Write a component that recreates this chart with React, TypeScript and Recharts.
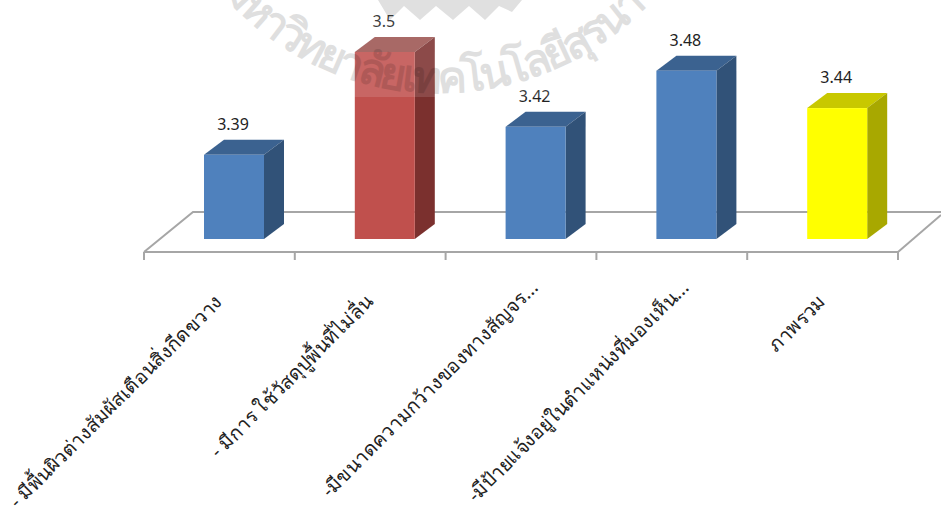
import React from 'react'
import { Bar, BarChart, Customized, LabelList, XAxis, YAxis, usePlotArea } from 'recharts'

const categories = [
    '- มีพื้นผิวต่างสัมผัสเตือนสิ่งกีดขวาง',
    '- มีการ ใช้วัสดุปูพื้นที่ไม่ลื่น',
    '-มีขนาดความกว้างของทางสัญจร...',
    '-มีป้ายแจ้งอยู่ในตำแหน่งที่มองเห็น...',
    'ภาพรวม',
]
const values = [3.39, 3.5, 3.42, 3.48, 3.44]
const frontColors = ['#4f81bd', '#c0504d', '#4f81bd', '#4f81bd', '#ffff00']
const topColors = ['#3b6290', '#9b5350', '#3b6290', '#3b6290', '#c8c800']
const sideColors = ['#315278', '#7b302e', '#315278', '#315278', '#a8a800']
const watermarkText = 'มหาวิทยาลัยเทคโนโลยีสุรนารี'

const data = categories.map((name, i) => ({ name, value: values[i] }))

const BAR_SHIFT = 15
const DEPTH_X = 20
const DEPTH_Y = 15

function Bar3D(props: any) {
    const { x, y, width, height, index } = props
    const left = x + BAR_SHIFT
    const right = left + width
    const bottom = y + height
    return (
        <g>
            <polygon points={`${left},${y} ${left + DEPTH_X},${y - DEPTH_Y} ${right + DEPTH_X},${y - DEPTH_Y} ${right},${y}`} fill={topColors[index]} />
            <polygon points={`${right},${y} ${right + DEPTH_X},${y - DEPTH_Y} ${right + DEPTH_X},${bottom - DEPTH_Y} ${right},${bottom}`} fill={sideColors[index]} />
            <rect x={left} y={y} width={width} height={height} fill={frontColors[index]} />
        </g>
    )
}

// floor of the 3d plot, sits behind the bars
function Floor() {
    const plot = usePlotArea()
    if (!plot) return null
    const left = plot.x
    const w = plot.width
    const base = plot.y + plot.height
    const front = base + 13
    const step = w / categories.length
    return (
        <g stroke="#a6a6a6" strokeWidth={2} fill="none">
            <polyline points={`${left},${front} ${left + 49},${base - 27} 941,${base - 27}`} />
            <line x1={left} y1={front} x2={left + w} y2={front} />
            <line x1={left + w} y1={front} x2={941} y2={base - 24} />
            {[0, 1, 2, 3, 4, 5].map((i) => (
                <line key={i} x1={left + i * step} y1={front} x2={left + i * step} y2={front + 8} />
            ))}
        </g>
    )
}

function AxisTick(props: any) {
    const { x, y, payload } = props
    // the cut-off labels run further up than the others
    const dx = payload.value.endsWith('...') ? 20 : 0
    return (
        <text
            x={x + 4}
            y={y + 56}
            dx={dx}
            transform={`rotate(-45 ${x + 4} ${y + 56})`}
            textAnchor="end"
            fontFamily="'Noto Sans', 'DejaVu Sans', sans-serif"
            fontSize={19.5}
            fill="#222"
        >
            {payload.value}
        </text>
    )
}

function ValueLabel(props: any) {
    const { x, y, width, value } = props
    return (
        <text
            x={x + BAR_SHIFT + width / 2 - 1}
            y={y - 25}
            textAnchor="middle"
            fontFamily="'Noto Sans', sans-serif"
            fontSize={16}
            fill="#222"
        >
            {value}
        </text>
    )
}

// scanned-in university stamp lying over the top of the picture
function Watermark() {
    return (
        <svg width={941} height={508} style={{ position: 'absolute', left: 0, top: 0, pointerEvents: 'none' }}>
            <rect x={300} y={0} width={260} height={97} fill="#fff" opacity={0.13} />
            <path id="stampArc" d="M 200 -35 A 289 289 0 0 0 680 -35" fill="none" />
            <text fontFamily="'Noto Sans', sans-serif" fontSize={44} fontWeight={700} letterSpacing={-3.5} fill="#000" opacity={0.12}>
                <textPath href="#stampArc" startOffset="50%" textAnchor="middle">{watermarkText}</textPath>
            </text>
            <polygon
                points="378,0 522,0 512,12 499,6 485,20 469,6 453,20 436,6 420,20 404,6 390,20"
                fill="#000"
                opacity={0.12}
            />
        </svg>
    )
}

export default function App() {
    return (
        <div style={{ position: 'absolute', left: 0, top: 0, width: 941, height: 508, overflow: 'hidden', background: '#fff' }}>
            <BarChart
                width={941}
                height={508}
                data={data}
                margin={{ top: 52, right: 43, bottom: 0, left: 144 }}
                barSize={60}
            >
                <Customized component={Floor} />
                <XAxis dataKey="name" axisLine={false} tickLine={false} interval={0} tick={<AxisTick />} height={269} />
                <YAxis hide domain={[3.3, 3.5]} />
                <Bar dataKey="value" isAnimationActive={false} shape={<Bar3D />}>
                    <LabelList dataKey="value" content={<ValueLabel />} />
                </Bar>
            </BarChart>
            <Watermark />
        </div>
    )
}
